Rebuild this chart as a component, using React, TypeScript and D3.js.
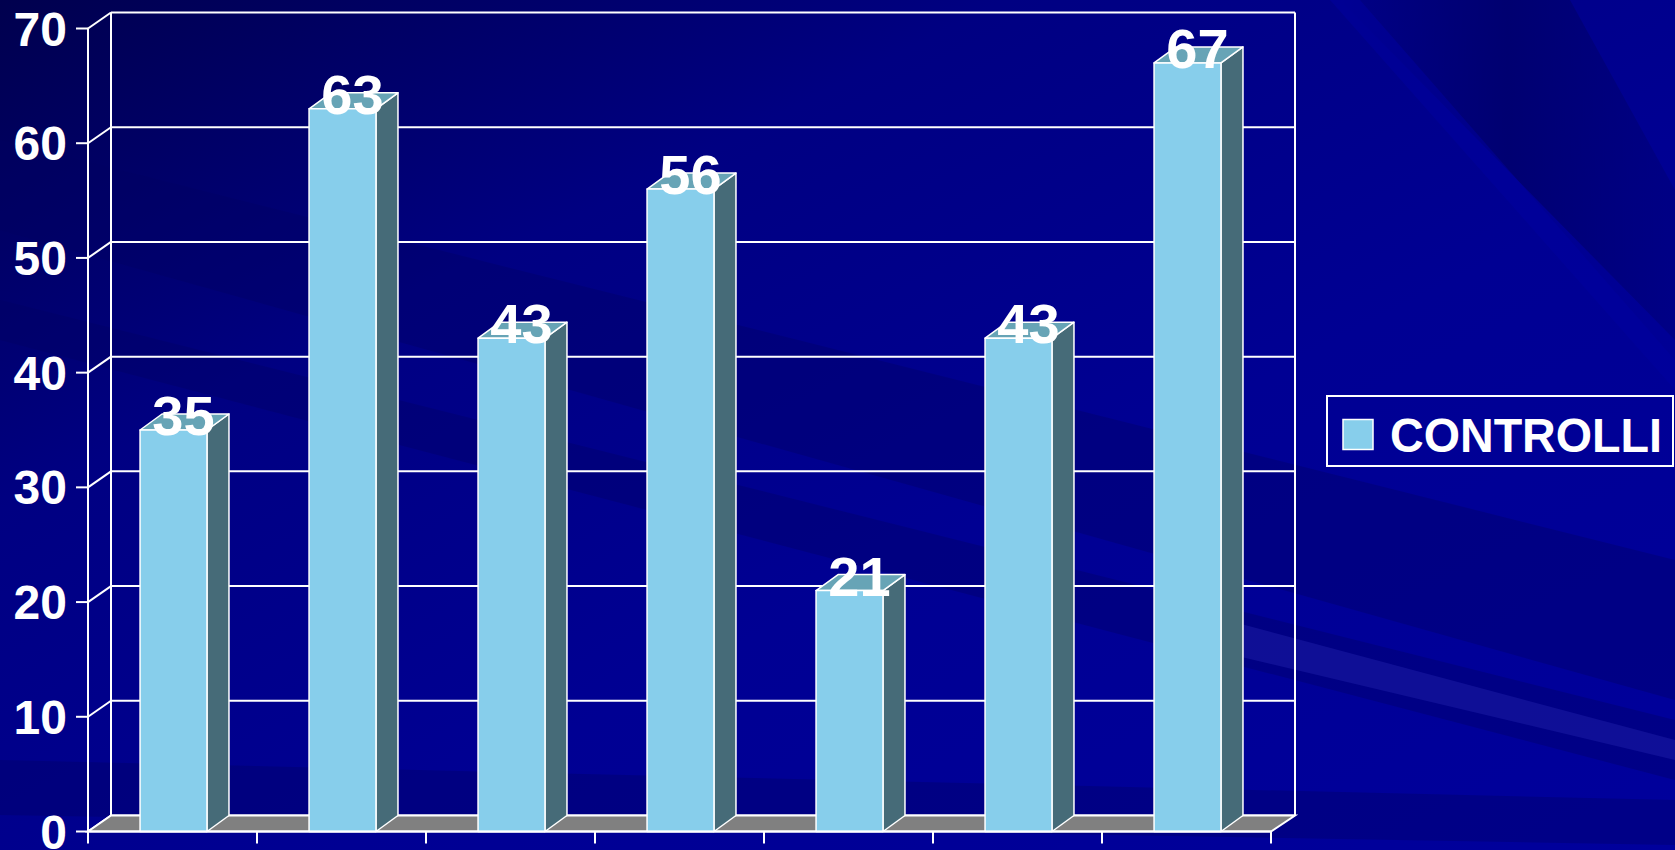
import React from "react";
import * as d3 from "d3";

const categories = ["1", "2", "3", "4", "5", "6", "7"];
const values = [35, 63, 43, 56, 21, 43, 67];
const yTicks = [0, 10, 20, 30, 40, 50, 60, 70];
const seriesName = "CONTROLLI";

const W = 1675;
const H = 850;
const LEFT = 88;
const RIGHT = 1271;
const BOTTOM = 831.5;
const TOP = 28.5;
const DX = 23;
const DY = 16;

const FRONT = "#87CEEB";
const SIDE = "#466B78";
const TOPC = "#67A4B6";
const FONT = "'Liberation Sans', Arial, sans-serif";

export default function App() {
  const y = d3.scaleLinear().domain([0, 70]).range([BOTTOM, TOP]);
  const x = d3.scaleBand<string>().domain(categories).range([LEFT, RIGHT]).padding(0);
  const bw = x.bandwidth();
  const barOff = bw * 0.308;
  const barW = bw * 0.396;
  const bdx = 22;
  const bdy = 16;

  const bands: [number, number][][] = [
    [[0, 140], [0, 230], [1675, 700], [1675, 560]],
    [[0, 300], [0, 340], [1675, 780], [1675, 720]],
    [[0, 760], [0, 815], [1675, 845], [1675, 800]],
    [[1170, 605], [1675, 740], [1675, 760], [1170, 640]],
  ];

  return (
    <div style={{ position: "fixed", left: 0, top: 0, width: W, height: H }}>
      <svg width={W} height={H} style={{ display: "block" }}>
        <defs>
          <linearGradient id="bg" x1="0" y1="0" x2="1" y2="1">
            <stop offset="0" stopColor="#00004E" />
            <stop offset="0.3" stopColor="#000082" />
            <stop offset="0.6" stopColor="#000093" />
            <stop offset="1" stopColor="#00009C" />
          </linearGradient>
          <linearGradient id="tr" x1="0" y1="0" x2="1" y2="0">
            <stop offset="0" stopColor="#000060" stopOpacity="0" />
            <stop offset="0.5" stopColor="#00006A" stopOpacity="0.8" />
            <stop offset="1" stopColor="#000070" stopOpacity="0.4" />
          </linearGradient>
        </defs>
        <rect x={0} y={0} width={W} height={H} fill="url(#bg)" />
        <polygon points="1340,0 1570,0 1675,190 1675,340" fill="url(#tr)" />
        <polygon points="1330,0 1360,0 1675,360 1675,390" fill="#0000A0" opacity={0.5} />
        {bands.map((b, i) => (
          <polygon
            key={i}
            points={b.map((p) => p.join(",")).join(" ")}
            fill={i === 3 ? "#2A2AB8" : "#000060"}
            opacity={i === 3 ? 0.35 : 0.35}
          />
        ))}

        {/* back wall grid */}
        {yTicks.map((t) => (
          <g key={t}>
            <line x1={LEFT} y1={y(t)} x2={LEFT + DX} y2={y(t) - DY} stroke="#fff" strokeWidth={2} />
            <line x1={LEFT + DX} y1={y(t) - DY} x2={RIGHT + DX + 1} y2={y(t) - DY} stroke="#fff" strokeWidth={2} />
            <line x1={LEFT - 12} y1={y(t)} x2={LEFT} y2={y(t)} stroke="#fff" strokeWidth={2} />
          </g>
        ))}
        <line x1={LEFT + DX} y1={y(70) - DY} x2={LEFT + DX} y2={y(0) - DY} stroke="#fff" strokeWidth={2} />
        <line x1={RIGHT + DX + 1} y1={y(70) - DY} x2={RIGHT + DX + 1} y2={y(0) - DY} stroke="#fff" strokeWidth={2} />

        {/* floor */}
        <polygon
          points={`${LEFT},${BOTTOM} ${RIGHT},${BOTTOM} ${RIGHT + DX + 1},${BOTTOM - DY} ${LEFT + DX},${BOTTOM - DY}`}
          fill="#808080"
          stroke="#fff"
          strokeWidth={2}
        />

        {/* bars */}
        {values.map((v, i) => {
          const x0 = (x(categories[i]) as number) + barOff;
          const x1 = x0 + barW;
          const yt = y(v);
          const yb = y(0);
          return (
            <g key={i} stroke="#fff" strokeWidth={1.5} strokeLinejoin="round">
              <polygon points={`${x1},${yt} ${x1 + bdx},${yt - bdy} ${x1 + bdx},${yb - bdy} ${x1},${yb}`} fill={SIDE} />
              <polygon points={`${x0},${yt} ${x0 + bdx},${yt - bdy} ${x1 + bdx},${yt - bdy} ${x1},${yt}`} fill={TOPC} />
              <rect x={x0} y={yt} width={barW} height={yb - yt} fill={FRONT} />
            </g>
          );
        })}

        {/* front axis */}
        <line x1={LEFT} y1={y(70)} x2={LEFT} y2={BOTTOM + 12} stroke="#fff" strokeWidth={2} />
        <line x1={LEFT} y1={BOTTOM} x2={RIGHT} y2={BOTTOM} stroke="#fff" strokeWidth={2} />
        {categories.map((c) => (
          <line
            key={c}
            x1={(x(c) as number) + bw}
            y1={BOTTOM}
            x2={(x(c) as number) + bw}
            y2={BOTTOM + 12}
            stroke="#fff"
            strokeWidth={2}
          />
        ))}

        {/* y tick labels */}
        {yTicks.map((t) => (
          <text
            key={t}
            x={67}
            y={y(t) + 17}
            textAnchor="end"
            fill="#fff"
            fontFamily={FONT}
            fontWeight="bold"
            fontSize={48}
          >
            {t}
          </text>
        ))}

        {/* value labels */}
        {values.map((v, i) => {
          const x0 = (x(categories[i]) as number) + barOff;
          return (
            <text
              key={i}
              x={x0 + barW / 2 + bdx / 2 - 1}
              y={y(v) + 5}
              textAnchor="middle"
              fill="#fff"
              fontFamily={FONT}
              fontWeight="bold"
              fontSize={56}
            >
              {v}
            </text>
          );
        })}

        {/* legend */}
        <rect x={1327} y={396} width={346} height={70} fill="none" stroke="#fff" strokeWidth={2} />
        <rect x={1343} y={419.5} width={30} height={30} fill={FRONT} stroke="#fff" strokeWidth={1.5} />
        <text
          x={1390}
          y={451.5}
          fill="#fff"
          fontFamily={FONT}
          fontWeight="bold"
          fontSize={48}
          textLength={272}
          lengthAdjust="spacingAndGlyphs"
        >
          {seriesName}
        </text>
      </svg>
    </div>
  );
}
